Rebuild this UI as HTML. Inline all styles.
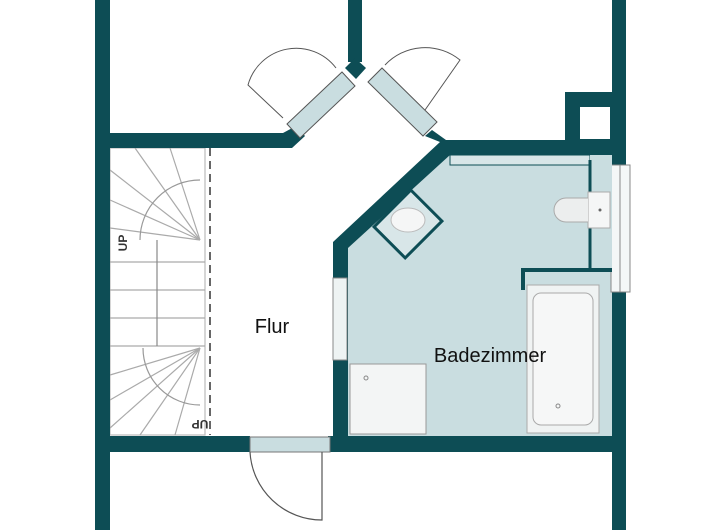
<!DOCTYPE html>
<html><head><style>body{margin:0;background:#fff}svg{display:block}</style></head><body>
<svg width="720" height="530" viewBox="0 0 720 530" xmlns="http://www.w3.org/2000/svg" font-family="Liberation Sans, sans-serif">
<rect width="720" height="530" fill="#fff"/>
<!-- bathroom floor -->
<polygon points="450,155 612,155 612,437 348,437 348,248" fill="#c9dde0"/>
<!-- stairs -->
<g stroke="#aaa" stroke-width="1.2" fill="none">
<rect x="110" y="148" width="95" height="287" stroke="#bbb"/>
<line x1="110" y1="262" x2="205" y2="262"/><line x1="110" y1="290" x2="205" y2="290"/>
<line x1="110" y1="318" x2="205" y2="318"/><line x1="110" y1="346" x2="205" y2="346"/>
<line x1="157" y1="240" x2="157" y2="346" stroke="#888"/>
<line x1="200" y1="240" x2="135" y2="148"/><line x1="200" y1="240" x2="170" y2="148"/>
<line x1="200" y1="240" x2="110" y2="170"/><line x1="200" y1="240" x2="110" y2="200"/>
<line x1="200" y1="240" x2="110" y2="228"/>
<path d="M140,240 A60,60 0 0 1 200,180" stroke="#999"/>
<line x1="200" y1="348" x2="110" y2="375"/><line x1="200" y1="348" x2="110" y2="400"/>
<line x1="200" y1="348" x2="110" y2="428"/><line x1="200" y1="348" x2="140" y2="435"/>
<line x1="200" y1="348" x2="175" y2="435"/>
<path d="M143,348 A57,57 0 0 0 200,405" stroke="#999"/>
</g>
<line x1="210" y1="148" x2="210" y2="435" stroke="#333" stroke-width="1.5" stroke-dasharray="8,5"/>
<text x="127" y="243" font-size="12" font-weight="bold" fill="#333" transform="rotate(-90 127 243)" text-anchor="middle">UP</text>
<text x="200" y="420" font-size="12" font-weight="bold" fill="#333" transform="rotate(180 200 420)" text-anchor="middle">UP</text>
<!-- walls -->
<g fill="#0d4d55">
<rect x="95" y="0" width="15" height="530"/>
<rect x="612" y="0" width="14" height="165"/>
<rect x="612" y="292" width="14" height="238"/>
<rect x="348" y="0" width="14" height="62"/>
<rect x="110" y="133" width="175" height="15"/>
<polygon points="283,133 296,126 305,136 292,148 283,148"/>
<polygon points="345,68 355,58 366,68 356,79"/>
<polygon points="432,130 446,140 612,140 612,155 450,155 348,248 348,450 333,450 333,242 440,142 425,136"/>
<rect x="565" y="92" width="61" height="63"/>
<rect x="110" y="436" width="140" height="16"/>
<rect x="328" y="436" width="298" height="16"/>
</g>
<rect x="580" y="107" width="30" height="32" fill="#fff"/>
<!-- door panels -->
<polygon points="287,124 342,72 355,86 300,138" fill="#c9dde0" stroke="#555" stroke-width="1"/>
<polygon points="368,82 382,68 437,122 423,136" fill="#c9dde0" stroke="#555" stroke-width="1"/>
<path d="M283,118 L248,85 A50,50 0 0 1 336,68" fill="none" stroke="#555" stroke-width="1"/>
<path d="M385,65 A55,55 0 0 1 460,60 L425,110" fill="none" stroke="#555" stroke-width="1"/>
<rect x="250" y="437" width="80" height="15" fill="#c9dde0" stroke="#777"/>
<path d="M250,452 A72,72 0 0 0 322,520 L322,452" fill="none" stroke="#555" stroke-width="1.2"/>
<!-- windows -->
<rect x="333" y="278" width="14" height="82" fill="#eef3f3" stroke="#888"/>
<rect x="611" y="165" width="19" height="127" fill="#f4f7f7" stroke="#888"/>
<line x1="620" y1="165" x2="620" y2="292" stroke="#888"/>
<!-- bathroom inner -->
<rect x="450" y="155" width="140" height="10" fill="#d8e6e8" stroke="#0d4d55" stroke-width="1"/>
<rect x="590" y="155" width="22" height="113" fill="#c9dde0"/>
<line x1="590" y1="160" x2="590" y2="268" stroke="#0d4d55" stroke-width="3"/>
<polyline points="523,290 523,270 612,270" fill="none" stroke="#0d4d55" stroke-width="4"/>
<rect x="527" y="285" width="72" height="148" fill="#f0f3f3" stroke="#aaa"/>
<rect x="533" y="293" width="60" height="132" rx="8" fill="#f6f7f7" stroke="#aaa"/>
<circle cx="558" cy="406" r="2" fill="none" stroke="#888"/>
<rect x="350" y="364" width="76" height="70" fill="#f3f5f5" stroke="#999"/>
<circle cx="366" cy="378" r="2" fill="none" stroke="#888"/>
<!-- toilet -->
<rect x="588" y="192" width="22" height="36" fill="#f5f6f6" stroke="#aaa"/>
<path d="M588,198 L566,198 A12,12 0 0 0 566,222 L588,222" fill="#eceeee" stroke="#aaa"/>
<circle cx="600" cy="210" r="1.5" fill="#666"/>
<!-- sink -->
<g transform="translate(408,224) rotate(-45)">
<rect x="-26" y="-22" width="52" height="44" fill="#d8e6e8" stroke="#0d4d55" stroke-width="3"/>
<ellipse cx="0" cy="-4" rx="17" ry="12" fill="#f5f6f6" stroke="#bbb" transform="rotate(45)"/>
</g>
<text x="272" y="333" font-size="20" fill="#111" text-anchor="middle">Flur</text>
<text x="490" y="362" font-size="20" fill="#111" text-anchor="middle">Badezimmer</text>
</svg>
</body></html>
